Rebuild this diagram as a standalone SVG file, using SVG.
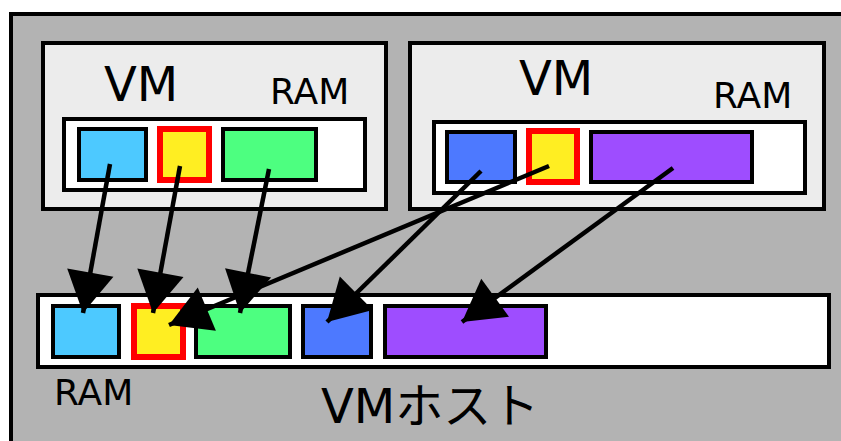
<svg xmlns="http://www.w3.org/2000/svg" width="841" height="441" viewBox="0 0 841 441">
  <style>
    .frame { stroke: #000; stroke-width: 4; }
    .host { fill: #b3b3b3; }
    .vm { fill: #ececec; }
    .ram { fill: #fff; }
    .blk { stroke: #000; stroke-width: 4; }
    .hot { stroke: #f00; stroke-width: 6; fill: #ffee22; }
    .c1 { fill: #4dc9ff; }
    .c2 { fill: #4dff80; }
    .c3 { fill: #4d79ff; }
    .c4 { fill: #9e4dff; }
    text { font-family: "DejaVu Sans", "Noto Sans CJK JP", sans-serif; fill: #000; }
    .big { font-size: 48px; }
    .small { font-size: 36px; }
    .arrow { stroke: #000; stroke-width: 4.5; fill: none; marker-end: url(#head); }
  </style>
  <defs>
    <marker id="head" markerUnits="userSpaceOnUse" orient="auto" refX="0" refY="0" markerWidth="50" markerHeight="50" overflow="visible">
      <path d="M0,0 L-41,-23.5 L-41,23.5 Z" fill="#000"/>
    </marker>
  </defs>

  <!-- host machine -->
  <g id="vm-host">
    <rect class="host frame" x="11" y="14" width="840" height="440"/>
    <text class="big" x="321" y="423">VMホスト</text>
  </g>

  <!-- first guest -->
  <g id="vm-1">
    <rect class="vm frame" x="43" y="43" width="343" height="166"/>
    <text class="big" x="104" y="101">VM</text>
    <text class="small" x="270" y="104">RAM</text>
    <rect class="ram frame" x="64" y="119" width="301" height="71"/>
    <rect class="blk c1" x="79" y="129" width="67" height="51"/>
    <rect class="hot" x="160" y="129" width="49" height="51"/>
    <rect class="blk c2" x="223" y="129" width="93" height="51"/>
  </g>

  <!-- second guest -->
  <g id="vm-2">
    <rect class="vm frame" x="410" y="43" width="414" height="166"/>
    <text class="big" x="519" y="95">VM</text>
    <text class="small" x="713" y="108">RAM</text>
    <rect class="ram frame" x="434" y="122" width="371" height="71"/>
    <rect class="blk c3" x="447" y="132" width="68" height="50"/>
    <rect class="hot" x="529" y="131" width="48" height="51"/>
    <rect class="blk c4" x="591" y="132" width="161" height="50"/>
  </g>

  <!-- host memory -->
  <g id="host-ram">
    <rect class="ram frame" x="38" y="295" width="791" height="72"/>
    <rect class="blk c1" x="53" y="306" width="66" height="51"/>
    <rect class="hot" x="134" y="306" width="49" height="51"/>
    <rect class="blk c2" x="196" y="306" width="94" height="51"/>
    <rect class="blk c3" x="303" y="306" width="68" height="51"/>
    <rect class="blk c4" x="385" y="306" width="161" height="51"/>
    <text class="small" x="54" y="405">RAM</text>
  </g>

  <!-- page mappings -->
  <g id="connectors">
    <line class="arrow" x1="110" y1="164" x2="83" y2="313"/>
    <line class="arrow" x1="180" y1="166" x2="153" y2="313"/>
    <line class="arrow" x1="269" y1="169" x2="240" y2="313"/>
    <line class="arrow" x1="549" y1="166" x2="169" y2="325"/>
    <line class="arrow" x1="481" y1="171" x2="327" y2="322"/>
    <line class="arrow" x1="673" y1="168" x2="462" y2="322"/>
  </g>
</svg>
